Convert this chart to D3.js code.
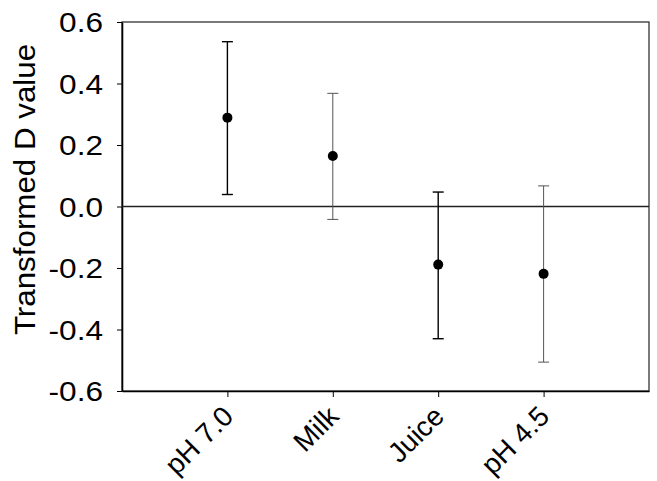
<!doctype html>
<html lang=en>

<head>
  <meta charset=utf-8>
  <title>Transformed D value</title>
  <style>
    body { margin: 0; background: white; }
    text { font-family: "Liberation Sans", Arial, sans-serif; }
  </style>
</head>

<body>
  <svg></svg>
  <script src="https://cdn.jsdelivr.net/npm/d3@7"></script>
  <script>
    var categories = ["pH 7.0", "Milk", "Juice", "pH 4.5"];
    var means = [0.289, 0.164, -0.189, -0.219];
    var upper = [0.536, 0.368, 0.047, 0.067];
    var lower = [0.039, -0.042, -0.430, -0.506];
    var barColors = ["#000", "#555", "#000", "#555"];
    var yTicks = [-0.6, -0.4, -0.2, 0.0, 0.2, 0.4, 0.6];

    var width = 657;
    var height = 481;
    var plotLeft = 122, plotRight = 649, plotTop = 22, plotBottom = 391;

    var svg = d3.select("svg")
      .attr("width", width)
      .attr("height", height);

    var xScale = d3.scaleLinear()
      .domain([0, 5])
      .range([plotLeft, plotRight]);

    var yScale = d3.scaleLinear()
      .domain([-0.6, 0.6])
      .range([plotBottom, plotTop]);

    // text in the original is a bit wider than Arial
    function stretch(sel, k) {
      sel.each(function () {
        var w = this.getComputedTextLength();
        d3.select(this)
          .attr("textLength", w * k)
          .attr("lengthAdjust", "spacingAndGlyphs");
      });
    }

    // frame
    svg.append("rect")
      .attr("x", plotLeft)
      .attr("y", plotTop)
      .attr("width", plotRight - plotLeft)
      .attr("height", plotBottom - plotTop)
      .style("fill", "none")
      .style("stroke", "#333")
      .style("stroke-width", "1.3px");

    // y axis
    var yAxis = svg.append("g")
      .attr("transform", "translate(" + plotLeft + ",0)")
      .call(d3.axisLeft(yScale)
        .tickValues(yTicks)
        .tickSize(5)
        .tickSizeOuter(0)
        .tickPadding(14)
        .tickFormat(function (d) { return d3.format(".1f")(d).replace("\u2212", "-"); }));
    yAxis.select(".domain").style("stroke-width", "1.6px");
    yAxis.selectAll("text")
      .style("font-size", "27px")
      .style("fill", "#000")
      .attr("dy", "0.36em")
      .call(stretch, 1.17);

    // x axis
    var xAxis = svg.append("g")
      .attr("transform", "translate(0," + plotBottom + ")")
      .call(d3.axisBottom(xScale)
        .tickValues([1, 2, 3, 4])
        .tickSize(6)
        .tickSizeOuter(0)
        .tickFormat(function (d) { return categories[d - 1]; }));
    xAxis.select(".domain").style("stroke-width", "1.6px");
    xAxis.selectAll("text")
      .style("font-size", "28px")
      .style("fill", "#000")
      .style("text-anchor", "end")
      .attr("transform", "translate(7,27) rotate(-45)")
      .attr("dy", 0)
      .attr("y", 0);

    // zero line
    svg.append("line")
      .attr("x1", plotLeft)
      .attr("x2", plotRight)
      .attr("y1", yScale(0))
      .attr("y2", yScale(0))
      .style("stroke", "#222")
      .style("stroke-width", "1.3px");

    // error bars
    var bars = svg.append("g");
    categories.forEach(function (c, i) {
      var x = xScale(i + 1);
      var g = bars.append("g")
        .style("stroke", barColors[i])
        .style("stroke-width", i % 2 === 0 ? "1.4px" : "1px");
      g.append("line")
        .attr("x1", x).attr("x2", x)
        .attr("y1", yScale(upper[i])).attr("y2", yScale(lower[i]));
      g.append("line")
        .attr("x1", x - 5.5).attr("x2", x + 5.5)
        .attr("y1", yScale(upper[i])).attr("y2", yScale(upper[i]));
      g.append("line")
        .attr("x1", x - 5.5).attr("x2", x + 5.5)
        .attr("y1", yScale(lower[i])).attr("y2", yScale(lower[i]));
    });

    svg.append("g")
      .selectAll("circle")
      .data(means)
      .enter()
      .append("circle")
      .attr("cx", function (d, i) { return xScale(i + 1); })
      .attr("cy", function (d) { return yScale(d); })
      .attr("r", 5)
      .style("fill", "#000");

    // y title
    svg.append("text")
      .attr("transform", "translate(35," + ((plotTop + plotBottom) / 2 - 17) + ") rotate(-90)")
      .style("text-anchor", "middle")
      .style("font-size", "29px")
      .text("Transformed D value")
      .call(stretch, 1.08);
  </script>
</body>

</html>
